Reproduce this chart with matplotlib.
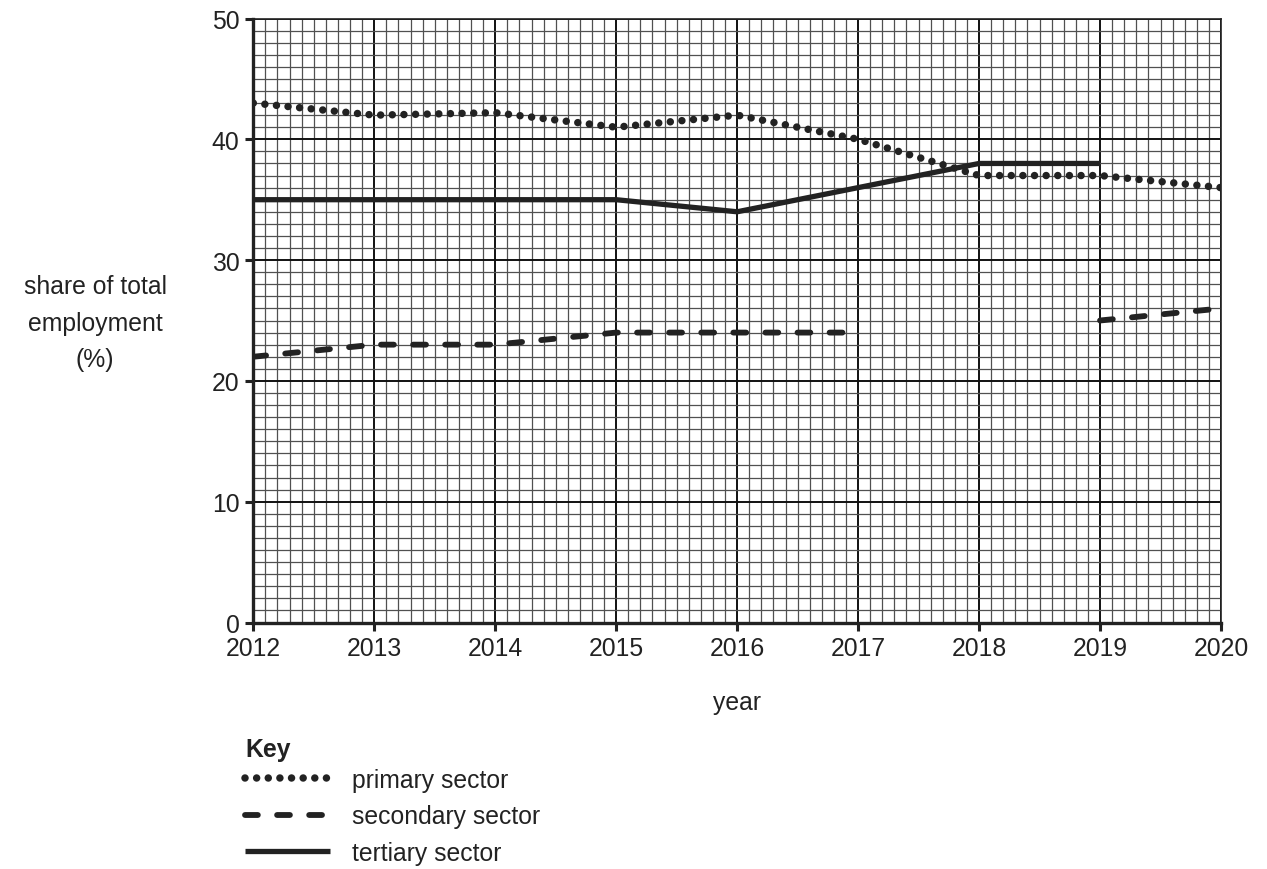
import numpy as np
import matplotlib
matplotlib.use("Agg")
from matplotlib import pyplot as plt
from matplotlib.ticker import MultipleLocator

plt.rcParams['font.family'] = ['Liberation Sans', 'DejaVu Sans']

years = [2012, 2013, 2014, 2015, 2016, 2017, 2018, 2019, 2020]
primary = [43, 42, 42.2, 41, 42, 40, 37, 37, 36]
secondary = [22, 23, 23, 24, 24, 24, np.nan, 25, 26]
tertiary = [35, 35, 35, 35, 34, 36, 38, 38, np.nan]

fs = 17.8
c = '#222222'

fig = plt.figure(figsize=(12.67, 8.7), dpi=100)
ax = fig.add_axes([253.3/1267, 1-623.5/870, (1221-253.3)/1267, (623.5-19.5)/870])

ax.set_xlim(2012, 2020)
ax.set_ylim(0, 50)
ax.xaxis.set_major_locator(MultipleLocator(1))
ax.xaxis.set_minor_locator(MultipleLocator(0.1))
ax.yaxis.set_major_locator(MultipleLocator(10))
ax.yaxis.set_minor_locator(MultipleLocator(1))
ax.grid(which='minor', color='#505050', lw=0.9)
ax.grid(which='major', color='#111111', lw=1.4)
ax.set_axisbelow(True)
ax.tick_params(which='minor', length=0)
ax.tick_params(which='major', direction='out', length=6, width=2.2,
               labelsize=fs, pad=4, colors=c, labelcolor=c)
for s in ['left', 'bottom']:
    ax.spines[s].set_linewidth(2.4)
    ax.spines[s].set_color(c)
for s in ['top', 'right']:
    ax.spines[s].set_linewidth(1.2)
    ax.spines[s].set_color(c)

ax.plot(years, primary, color=c, lw=5.4, linestyle=(0, (0.001, 1.55)),
        dash_capstyle='round', label='primary sector', zorder=3)
ax.plot(years, secondary, color=c, lw=4.2, linestyle=(0, (2.2, 3.3)),
        dash_capstyle='round', label='secondary sector', zorder=3)
ax.plot(years, tertiary, color=c, lw=3.8, linestyle='-',
        solid_capstyle='butt', label='tertiary sector', zorder=3)

ax.set_xlabel('year', fontsize=fs, color=c, labelpad=21)
fig.text(95/1267, 1-323.5/870, 'share of total\nemployment\n(%)', ha='center',
         va='center', fontsize=fs, color=c, linespacing=1.66)

fig.text(245/1267, 1-750/870, 'Key', ha='left', va='center', fontsize=fs,
         fontweight='bold', color=c)
leg = ax.legend(loc='upper left', bbox_to_anchor=(235/1267, 1-759/870),
                bbox_transform=fig.transFigure, frameon=False,
                fontsize=fs, handlelength=3.45,
                handletextpad=0.9, labelspacing=0.5, borderaxespad=0)
for t in leg.get_texts():
    t.set_color(c)

fig.savefig('out.png', dpi=100)
